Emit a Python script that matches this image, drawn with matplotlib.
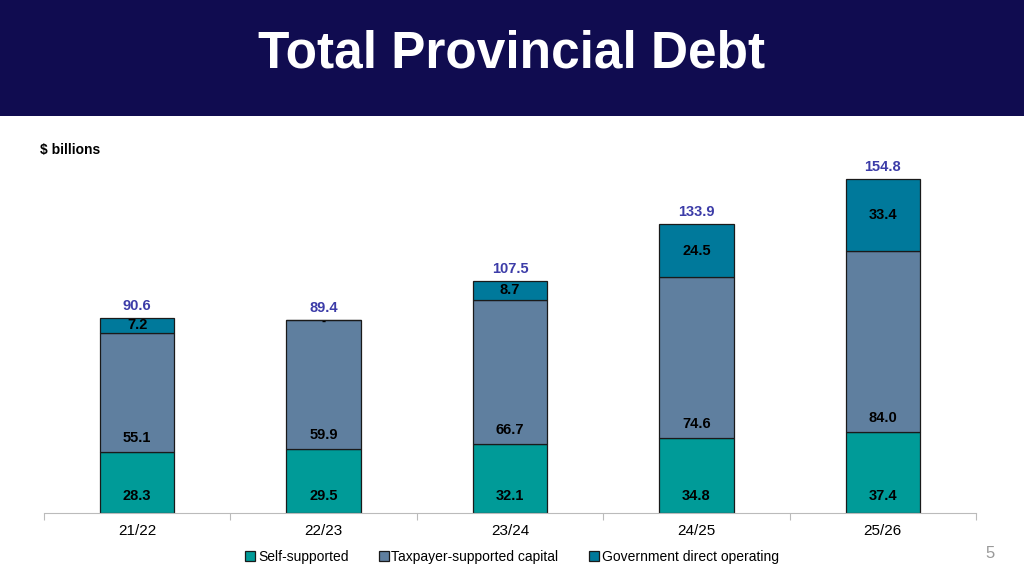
import matplotlib.pyplot as plt
from matplotlib.patches import Rectangle

years = ['21/22', '22/23', '23/24', '24/25', '25/26']
self_supported = [28.3, 29.5, 32.1, 34.8, 37.4]
taxpayer_capital = [55.1, 59.9, 66.7, 74.6, 84.0]
gov_operating = [7.2, 0.0, 8.7, 24.5, 33.4]
totals = [90.6, 89.4, 107.5, 133.9, 154.8]

c_self = '#009b98'
c_tax = '#5f7f9f'
c_gov = '#00799b'
c_total = '#3c3ca8'

plt.rcParams['font.family'] = ['Liberation Sans', 'DejaVu Sans']

fig = plt.figure(figsize=(10.24, 5.76), dpi=100)

# header band
fig.patches.append(Rectangle((0, 1 - 116 / 576), 1, 116 / 576, transform=fig.transFigure,
                             facecolor='#100c50', edgecolor='none', zorder=0))
fig.text(0.5, 1 - 54 / 576, 'Total Provincial Debt', color='white', fontsize=37,
         fontweight='bold', ha='center', va='center')
fig.text(40 / 1024, 1 - 150 / 576, '$ billions', fontsize=10, fontweight='bold', va='center')
fig.text(990 / 1024, 1 - 553 / 576, '5', fontsize=12, color='#999999', ha='center', va='center')

ax = fig.add_axes([44 / 1024, 1 - 513 / 576, 932 / 1024, 366.8 / 576])
x = range(len(years))
w = 0.40
ek = dict(edgecolor='#1a1a1a', linewidth=0.9)
b1 = ax.bar(x, self_supported, w, color=c_self, label='Self-supported', **ek)
b2 = ax.bar(x, taxpayer_capital, w, bottom=self_supported, color=c_tax,
            label='Taxpayer-supported capital', **ek)
base2 = [a + b for a, b in zip(self_supported, taxpayer_capital)]
b3 = ax.bar(x, gov_operating, w, bottom=base2, color=c_gov,
            label='Government direct operating', **ek)

for i in x:
    ax.text(i, 7.8, f'{self_supported[i]:.1f}', ha='center', va='center',
            fontsize=10.5, fontweight='bold')
    ax.text(i, self_supported[i] + 6.5, f'{taxpayer_capital[i]:.1f}', ha='center',
            va='center', fontsize=10.5, fontweight='bold')
    if gov_operating[i] > 0:
        ax.text(i, base2[i] + gov_operating[i] / 2, f'{gov_operating[i]:.1f}',
                ha='center', va='center', fontsize=10.5, fontweight='bold')
    else:
        ax.text(i, base2[i] - 0.6, '-', ha='center', va='center', fontsize=9,
                fontweight='bold')
    ax.text(i, totals[i] + 5.5, f'{totals[i]:.1f}', ha='center', va='center',
            fontsize=10.5, fontweight='bold', color=c_total)

ax.set_xlim(-0.5, len(years) - 0.5)
ax.set_ylim(0, 170)
ax.set_yticks([])
for s in ['top', 'right', 'left']:
    ax.spines[s].set_visible(False)
ax.spines['bottom'].set_color('#bbbbbb')
ax.set_xticks([i - 0.5 for i in range(len(years) + 1)])
ax.set_xticklabels([])
ax.set_xticks(list(x), minor=True)
ax.set_xticklabels(years, minor=True, fontsize=11)
ax.tick_params(axis='x', which='major', length=5, color='#bbbbbb')
ax.tick_params(axis='x', which='minor', length=0, pad=8)

fig.legend(handles=[b1, b2, b3], loc='center', bbox_to_anchor=(0.5, 1 - 557 / 576),
           ncol=3, frameon=False, fontsize=10, handlelength=0.7, handleheight=0.7,
           handletextpad=0.2, columnspacing=2.2)

fig.savefig('out.png', dpi=100)
